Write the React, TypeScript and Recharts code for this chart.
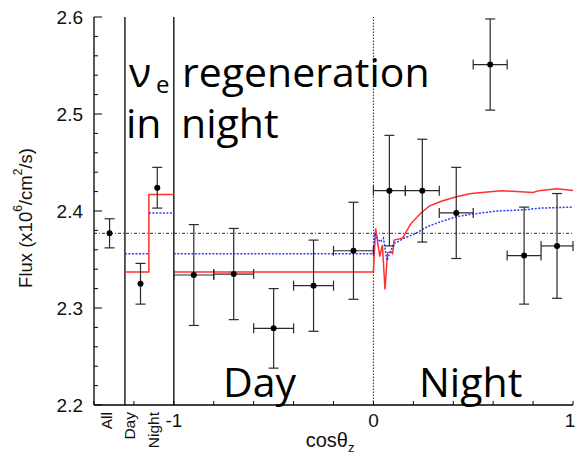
import React from 'react'
import {
  ComposedChart,
  Line,
  Scatter,
  ErrorBar,
  XAxis,
  YAxis,
  ReferenceLine
} from 'recharts'

const AXIS_FONT = '"Liberation Sans", Arial, sans-serif'
const NOTE_FONT = '"Open Sans", "Noto Sans", sans-serif'

// tick marks
const xTicks = [-1.4, -1.2, -1, -0.8, -0.6, -0.4, -0.2, 0, 0.2, 0.4, 0.6, 0.8, 1]
const xLabeled = [-1, 0, 1]
const yTicks = [
  2.2, 2.22, 2.24, 2.26, 2.28, 2.3, 2.32, 2.34, 2.36, 2.38, 2.4,
  2.42, 2.44, 2.46, 2.48, 2.5, 2.52, 2.54, 2.56, 2.58, 2.6
]
const yMajor = [2.2, 2.3, 2.4, 2.5, 2.6]

// rotated category labels under the left-hand panel
const catNames = ['All', 'Day', 'Night']
const catPos = [-1.336, -1.222, -1.104]

// separators between All | Day/Night | cos(theta_z) panels
const panelEdges = [-1.245, -1.0]
const allAverage = 2.377

// All / Day / Night points (vertical errors only)
const summaryX = [-1.322, -1.167, -1.083]
const summaryFlux = [2.377, 2.325, 2.424]
const summaryErr = [0.015, 0.021, 0.021]

// zenith-angle bins
const binX = [-0.9, -0.7, -0.5, -0.3, -0.1, 0.08, 0.245, 0.415, 0.585, 0.755, 0.92]
const binHalfWidth = [0.1, 0.1, 0.1, 0.1, 0.1, 0.08, 0.085, 0.085, 0.085, 0.085, 0.08]
const binFlux = [2.334, 2.335, 2.279, 2.323, 2.359, 2.421, 2.421, 2.398, 2.551, 2.354, 2.364]
const binErr = [0.052, 0.047, 0.041, 0.047, 0.05, 0.057, 0.053, 0.047, 0.047, 0.05, 0.054]

// expectation curves: red (solid) and blue (dotted)
const redStepX = [-1.245, -1.125, -1.125, -1.0]
const redStepY = [2.337, 2.337, 2.417, 2.417]
const blueStepX = [-1.245, -1.125, -1.125, -1.125, -1.0]
const blueStepY = [2.356, 2.356, null, 2.398, 2.398]

const redX = [
  -1.0, 0, 0.011, 0.032, 0.045, 0.058, 0.071, 0.088, 0.096, 0.104, 0.146,
  0.188, 0.238, 0.28, 0.34, 0.42, 0.49, 0.64, 0.8, 0.83, 0.92, 1.0
]
const redY = [
  2.337, 2.337, 2.382, 2.353, 2.365, 2.319, 2.357, 2.358, 2.356, 2.37, 2.372,
  2.387, 2.398, 2.405, 2.41, 2.415, 2.418, 2.421, 2.419, 2.421, 2.423, 2.421
]
const blueX = [
  -1.0, 0, 0.006, 0.02, 0.035, 0.05, 0.068, 0.085, 0.104, 0.12, 0.154,
  0.213, 0.272, 0.338, 0.414, 0.5, 0.622, 0.74, 0.84, 1.0
]
const blueY = [
  2.356, 2.356, 2.377, 2.372, 2.368, 2.372, 2.349, 2.358, 2.367, 2.368, 2.372,
  2.377, 2.384, 2.389, 2.394, 2.397, 2.4, 2.401, 2.403, 2.404
]

const zip = (xs: number[], ys: (number | null)[]) => xs.map((x, i) => ({ x, y: ys[i] }))

const summaryData = summaryX.map((x, i) => ({ x, y: summaryFlux[i], ey: summaryErr[i] }))
const binData = binX.map((x, i) => ({ x, y: binFlux[i], ex: binHalfWidth[i], ey: binErr[i] }))

const RED = '#ff3030'
const BLUE = '#2a3cff'
const INK = '#2a2a2a'

const Dot = (props: any) => <circle cx={props.cx} cy={props.cy} r={3} fill="#000" />

const BottomTick = ({ x, y, payload }: any) => {
  const v = payload.value
  const ci = catPos.indexOf(v)
  if (ci >= 0) {
    return (
      <text
        transform={`translate(${x},${y + 7}) rotate(-90)`}
        textAnchor="end"
        dominantBaseline="central"
        fontSize={15.5}
        fontFamily={AXIS_FONT}
        fill="#111"
      >
        {catNames[ci]}
      </text>
    )
  }
  // the last label sits on the frame edge, so keep it inside the page
  const labelX = v === 1 ? x - 3 : x
  return (
    <g>
      <line x1={x} x2={x} y1={y} y2={y - 4} stroke="#000" />
      {xLabeled.includes(v) && (
        <text
          x={labelX}
          y={y + 15}
          textAnchor="middle"
          dominantBaseline="central"
          fontSize={19}
          fontFamily={AXIS_FONT}
          fill="#111"
        >
          {String(v)}
        </text>
      )}
    </g>
  )
}

const TopTick = ({ x, y }: any) => <line x1={x} x2={x} y1={y} y2={y + 4} stroke="#000" />

const LeftTick = ({ x, y, payload }: any) => {
  const major = yMajor.includes(payload.value)
  return (
    <g>
      <line x1={x} x2={x + (major ? 8 : 4)} y1={y} y2={y} stroke="#000" />
      {major && (
        <text
          x={x - 11}
          y={y}
          textAnchor="end"
          dominantBaseline="central"
          fontSize={19}
          fontFamily={AXIS_FONT}
          fill="#111"
        >
          {payload.value.toFixed(1)}
        </text>
      )}
    </g>
  )
}

const RightTick = ({ x, y, payload }: any) => {
  const major = yMajor.includes(payload.value)
  return <line x1={x} x2={x - (major ? 8 : 4)} y1={y} y2={y} stroke="#000" />
}

export default function App() {
  return (
    <div style={{ position: 'absolute', left: 0, top: 0, width: 576, height: 456, background: '#fff' }}>
      <ComposedChart width={576} height={456} margin={{ top: 17, right: 3, bottom: 0, left: 0 }}>
        <XAxis
          dataKey="x"
          type="number"
          domain={[-1.4, 1.0]}
          allowDataOverflow
          ticks={[...xTicks, ...catPos]}
          interval={0}
          height={51}
          tickSize={0}
          tickMargin={0}
          tickLine={false}
          tick={<BottomTick />}
          axisLine={{ stroke: '#000', strokeWidth: 1.3 }}
        />
        <XAxis
          xAxisId="top"
          orientation="top"
          type="number"
          domain={[-1.4, 1.0]}
          allowDataOverflow
          ticks={xTicks}
          interval={0}
          height={0}
          tickSize={0}
          tickMargin={0}
          tickLine={false}
          tick={<TopTick />}
          axisLine={{ stroke: '#000', strokeWidth: 1.3 }}
        />
        <YAxis
          dataKey="y"
          type="number"
          domain={[2.2, 2.6]}
          allowDataOverflow
          ticks={yTicks}
          interval={0}
          width={94}
          tickSize={0}
          tickMargin={0}
          tickLine={false}
          tick={<LeftTick />}
          axisLine={{ stroke: '#000', strokeWidth: 1.3 }}
        />
        <YAxis
          yAxisId="right"
          orientation="right"
          type="number"
          domain={[2.2, 2.6]}
          allowDataOverflow
          ticks={yTicks}
          interval={0}
          width={0}
          tickSize={0}
          tickMargin={0}
          tickLine={false}
          tick={<RightTick />}
          axisLine={{ stroke: '#000', strokeWidth: 1.3 }}
        />

        <ReferenceLine y={allAverage} stroke={INK} strokeDasharray="3 2 1 2" strokeWidth={1} />
        <ReferenceLine x={0} stroke={INK} strokeDasharray="1.5 1.5" strokeWidth={1} />
        {panelEdges.map((e) => (
          <ReferenceLine key={e} x={e} stroke="#000" strokeWidth={1.3} />
        ))}

        <Line data={zip(redStepX, redStepY)} dataKey="y" stroke={RED} strokeWidth={1.5} dot={false} isAnimationActive={false} />
        <Line data={zip(blueStepX, blueStepY)} dataKey="y" stroke={BLUE} strokeWidth={1.5} strokeDasharray="2 1.5" dot={false} isAnimationActive={false} />
        <Line data={zip(redX, redY)} dataKey="y" stroke={RED} strokeWidth={1.5} dot={false} isAnimationActive={false} />
        <Line data={zip(blueX, blueY)} dataKey="y" stroke={BLUE} strokeWidth={1.5} strokeDasharray="2 1.5" dot={false} isAnimationActive={false} />

        <Scatter data={summaryData} dataKey="y" shape={Dot} isAnimationActive={false}>
          <ErrorBar dataKey="ey" direction="y" width={5} stroke={INK} strokeWidth={1.2} isAnimationActive={false} />
        </Scatter>
        <Scatter data={binData} dataKey="y" shape={Dot} isAnimationActive={false}>
          <ErrorBar dataKey="ey" direction="y" width={5} stroke={INK} strokeWidth={1.2} isAnimationActive={false} />
          <ErrorBar dataKey="ex" direction="x" width={5} stroke={INK} strokeWidth={1.2} isAnimationActive={false} />
        </Scatter>
      </ComposedChart>

      <svg width={576} height={456} style={{ position: 'absolute', left: 0, top: 0, pointerEvents: 'none' }}>
        <text
          transform="translate(25,218) rotate(-90)"
          textAnchor="middle"
          dominantBaseline="central"
          fontSize={18.5}
          fontFamily={AXIS_FONT}
          fill="#111"
        >
          Flux (x10<tspan dy={-7} fontSize={12}>6</tspan>
          <tspan dy={7}>/cm</tspan>
          <tspan dy={-7} fontSize={12}>2</tspan>
          <tspan dy={7}>/s)</tspan>
        </text>
        <text x={330} y={447} textAnchor="middle" fontSize={20} fontFamily={AXIS_FONT} fill="#111">
          cosθ<tspan dy={5} fontSize={13}>z</tspan>
        </text>

        <g fontFamily={NOTE_FONT} fill="#000">
          <text x={129} y={87} fontSize={41}>ν</text>
          <text x={156} y={93} fontSize={24}>e</text>
          <text x={182} y={87} fontSize={41}>regeneration</text>
          <text x={126} y={138} fontSize={41}>in</text>
          <text x={181} y={138} fontSize={41}>night</text>
          <text x={223} y={397} fontSize={41}>Day</text>
          <text x={419} y={397} fontSize={41}>Night</text>
        </g>
      </svg>
    </div>
  )
}
